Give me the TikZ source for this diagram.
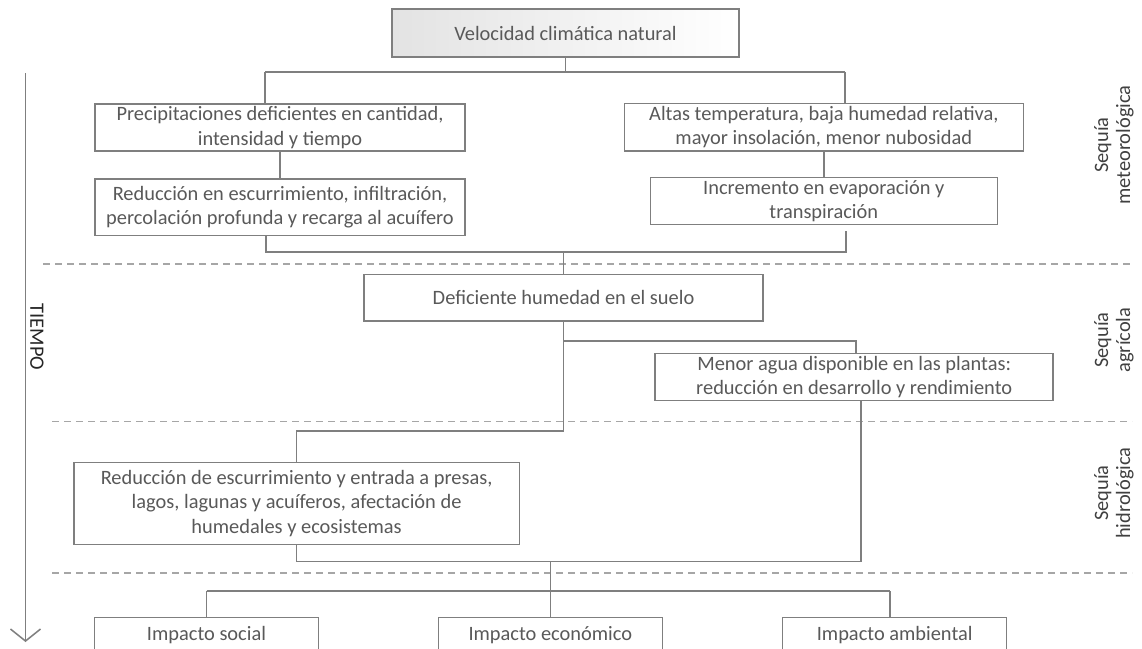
\documentclass[tikz,border=0pt]{standalone}
\usepackage{fontspec}
\setmainfont{Carlito}
\usetikzlibrary{arrows.meta}
\definecolor{txt}{HTML}{595959}
\definecolor{ln}{HTML}{7F7F7F}
\definecolor{dsh}{HTML}{A6A6A6}
\definecolor{lbl}{HTML}{404040}
\begin{document}
\begin{tikzpicture}[x=1pt,y=-1pt,
  box/.style={draw=ln, line width=1.5pt, fill=white, text=txt, align=center, inner sep=0pt,
    font=\fontsize{20.4}{24.4}\selectfont},
  conn/.style={draw=ln, line width=1.6pt},
  sepline/.style={draw=dsh, line width=1.5pt, dash pattern=on 7pt off 5pt},
  sidelbl/.style={text=lbl, align=center, inner sep=0pt, rotate=90,
    font=\fontsize{20.4}{22}\selectfont}]
\useasboundingbox (0,0) rectangle (1142,648);
\fill[white] (0,0) rectangle (1142,648);

% separators
\coordinate (s1a) at (43,264);   \coordinate (s1b) at (1132,264);
\coordinate (s2a) at (52,421.5); \coordinate (s2b) at (1132,421.5);
\coordinate (s3a) at (52,573);   \coordinate (s3b) at (1132,573);
\draw[sepline] (s1a) -- (s1b);
\draw[sepline] (s2a) -- (s2b);
\draw[sepline] (s3a) -- (s3b);

% time arrow
\coordinate (tstart) at (25.5,73);
\coordinate (tend) at (25.5,642);
\draw[conn, -{Straight Barb[length=12pt,width=30pt,line width=1.5pt]}] (tstart) -- (tend);
\node[text=black!85, rotate=-90, font=\fontsize{20.4}{24}\selectfont, inner sep=0pt] (tiempo) at (37,337) {TIEMPO};

% side labels
\node[sidelbl] (lmet) at (1114,145) {Sequía\\meteorológica};
\node[sidelbl] (lagr) at (1114,340) {Sequía\\agrícola};
\node[sidelbl] (lhid) at (1114,493) {Sequía\\hidrológica};

% boxes
\node[box, minimum width=347pt, minimum height=48pt, left color=gray!22, right color=white] (top) at (565.5,33) {Velocidad climática natural};
\node[box, minimum width=370pt, minimum height=47pt] (precip) at (280,127.5) {Precipitaciones deficientes en cantidad,\\intensidad y tiempo};
\node[box, minimum width=370pt, minimum height=56.7pt] (redesc) at (280,207.3) {Reducción en escurrimiento, infiltración,\\percolación profunda y recarga al acuífero};
\node[box, minimum width=399pt, minimum height=47.7pt] (altas) at (823.8,127.2) {Altas temperatura, baja humedad relativa,\\mayor insolación, menor nubosidad};
\node[box, minimum width=347pt, minimum height=47pt] (incr) at (823.8,201.2) {Incremento en evaporación y\\transpiración};
\node[box, minimum width=399pt, minimum height=46.7pt] (defic) at (563.5,297.7) {Deficiente humedad en el suelo};
\node[box, minimum width=398pt, minimum height=47.4pt] (menor) at (854.2,377) {Menor agua disponible en las plantas:\\reducción en desarrollo y rendimiento};
\node[box, minimum width=445.4pt, minimum height=81.6pt] (hidro) at (296.6,503.5) {Reducción de escurrimiento y entrada a presas,\\lagos, lagunas y acuíferos, afectación de\\humedales y ecosistemas};
\node[box, minimum width=224pt, minimum height=35pt] (social) at (206.5,635) {Impacto social};
\node[box, minimum width=224pt, minimum height=35pt] (econ) at (550.3,635) {Impacto económico};
\node[box, minimum width=224pt, minimum height=35pt] (amb) at (894.7,635) {Impacto ambiental};

% connectors: top level
\coordinate (jtop) at (565.5,72);
\coordinate (jtopL) at (265,72);
\coordinate (jtopR) at (845,72);
\draw[conn] (top.south) -- (jtop);
\draw[conn] (jtopL) -- (jtopR);
\draw[conn] (jtopL) -- (jtopL |- precip.north);
\draw[conn] (jtopR) -- (jtopR |- altas.north);
\draw[conn] (precip.south) -- (redesc.north);
\draw[conn] (altas.south) -- (incr.north);

% merge into soil moisture
\coordinate (jmidL) at (265.7,251.7);
\coordinate (jmidR) at (845.7,251.7);
\coordinate (jmidRt) at (845.7,230.7);
\coordinate (jmid) at (563.5,251.7);
\draw[conn] (redesc.south -| jmidL) -- (jmidL) -- (jmidR) -- (jmidRt);
\draw[conn] (jmid) -- (defic.north);

% soil moisture branches
\coordinate (jag) at (563.5,340.7);
\coordinate (jagR) at (855.7,340.7);
\coordinate (jlow) at (563.5,431);
\coordinate (jlowL) at (296.6,431);
\draw[conn] (defic.south) -- (jlow) -- (jlowL) -- (hidro.north);
\draw[conn] (jag) -- (jagR) -- (jagR |- menor.north);

% merge into impacts
\coordinate (jhL) at (296.6,561.3);
\coordinate (jhR) at (861,561.3);
\coordinate (jh) at (550.3,561.3);
\draw[conn] (hidro.south) -- (jhL) -- (jhR) -- (jhR |- menor.south);
\coordinate (jimpL) at (206.5,591);
\coordinate (jimpR) at (890,591);
\draw[conn] (jh) -- (econ.north);
\draw[conn] (jimpL) -- (jimpR);
\draw[conn] (jimpL) -- (social.north);
\draw[conn] (jimpR) -- (jimpR |- amb.north);
\end{tikzpicture}
\end{document}
